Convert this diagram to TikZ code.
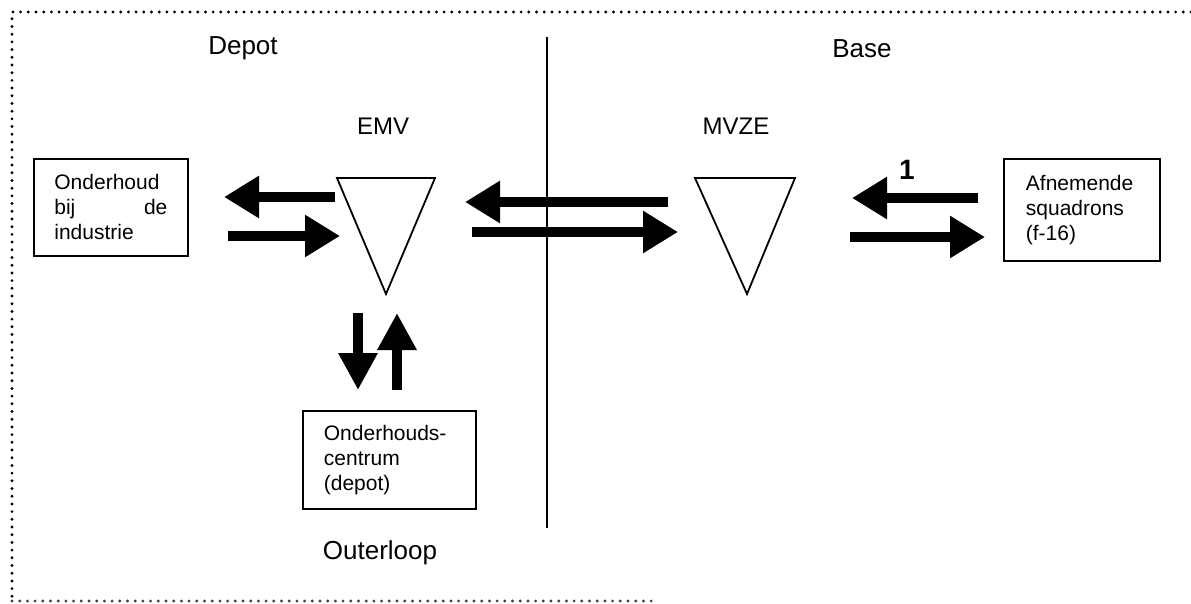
\documentclass[tikz,border=0pt]{standalone}
\usepackage{fontspec}
\setmainfont{Liberation Sans}
\usetikzlibrary{arrows.meta}
\tikzset{
  box/.style={draw, line width=1.8pt, align=left, font=\fontsize{21}{25}\selectfont, anchor=north west},
  lbl/.style={font=\fontsize{26}{30}\selectfont},
  slbl/.style={font=\fontsize{24}{28}\selectfont},
  fat/.style={line width=10pt, -{Triangle[length=35pt,width=40pt]}},
  fatv/.style={line width=10pt, -{Triangle[length=37pt,width=37pt]}},
  tri/.style={draw, line width=1.8pt, line join=miter},
  frame/.style={line width=3.2pt, line cap=round, dash pattern=on 0pt off 7.7pt},
}
\begin{document}
\begin{tikzpicture}[x=1pt,y=-1pt]
\useasboundingbox (0,0) rectangle (1191,604);
% frame
\draw[frame] (1191,12) -- (12,12) -- (12,601);
\draw[frame, black!75] (12,601) -- (657,601);
% divider
\coordinate (vtop) at (547,37);
\coordinate (vbot) at (547,528);
\draw[line width=2pt] (vtop) -- (vbot);
% headings
\node[lbl] (depot) at (243,48) {Depot};
\node[lbl] (base) at (862,49) {Base};
\node[lbl] (outer) at (380,553) {Outerloop};
\node[slbl] (emv) at (383,126) {EMV};
\node[slbl] (mvze) at (736,126) {MVZE};
\node[font=\bfseries\fontsize{28}{30}\selectfont] (one) at (907,170) {1};
% triangles
\coordinate (e1) at (337,178); \coordinate (e2) at (435,178); \coordinate (e3) at (386,294);
\draw[tri] (e1) -- (e2) -- (e3) -- cycle;
\coordinate (m1) at (695,178); \coordinate (m2) at (795,178); \coordinate (m3) at (747,294);
\draw[tri] (m1) -- (m2) -- (m3) -- cycle;
% boxes
\node[box, minimum width=154pt, minimum height=97pt, text width=113pt, inner xsep=20.5pt] (ind) at (33,158)
  {Onderhoud\\\makebox[113pt][s]{bij\hfill de}\\industrie};
\node[box, minimum width=156pt, minimum height=102pt, text width=112pt, inner xsep=22pt] (sq) at (1003,158)
  {Afnemende\\squadrons\\(f-16)};
\node[box, minimum width=173pt, minimum height=98pt, text width=131pt, inner xsep=21pt] (oc) at (302,410)
  {Onderhouds-\\centrum\\(depot)};
% arrows
\coordinate (a1s) at (335,197); \coordinate (a1e) at (224,197);
\coordinate (a2s) at (228,236); \coordinate (a2e) at (340,236);
\coordinate (b1s) at (668,202); \coordinate (b1e) at (465,202);
\coordinate (b2s) at (472,232); \coordinate (b2e) at (678,232);
\coordinate (c1s) at (978,198); \coordinate (c1e) at (852,198);
\coordinate (c2s) at (850,237); \coordinate (c2e) at (985,237);
\coordinate (d1s) at (358,313); \coordinate (d1e) at (358,390);
\coordinate (u1s) at (397,390); \coordinate (u1e) at (397,313);
\draw[fat] (a1s) -- (a1e);
\draw[fat] (a2s) -- (a2e);
\draw[fat] (b1s) -- (b1e);
\draw[fat] (b2s) -- (b2e);
\draw[fat] (c1s) -- (c1e);
\draw[fat] (c2s) -- (c2e);
\draw[fatv] (d1s) -- (d1e);
\draw[fatv] (u1s) -- (u1e);
\end{tikzpicture}
\end{document}
